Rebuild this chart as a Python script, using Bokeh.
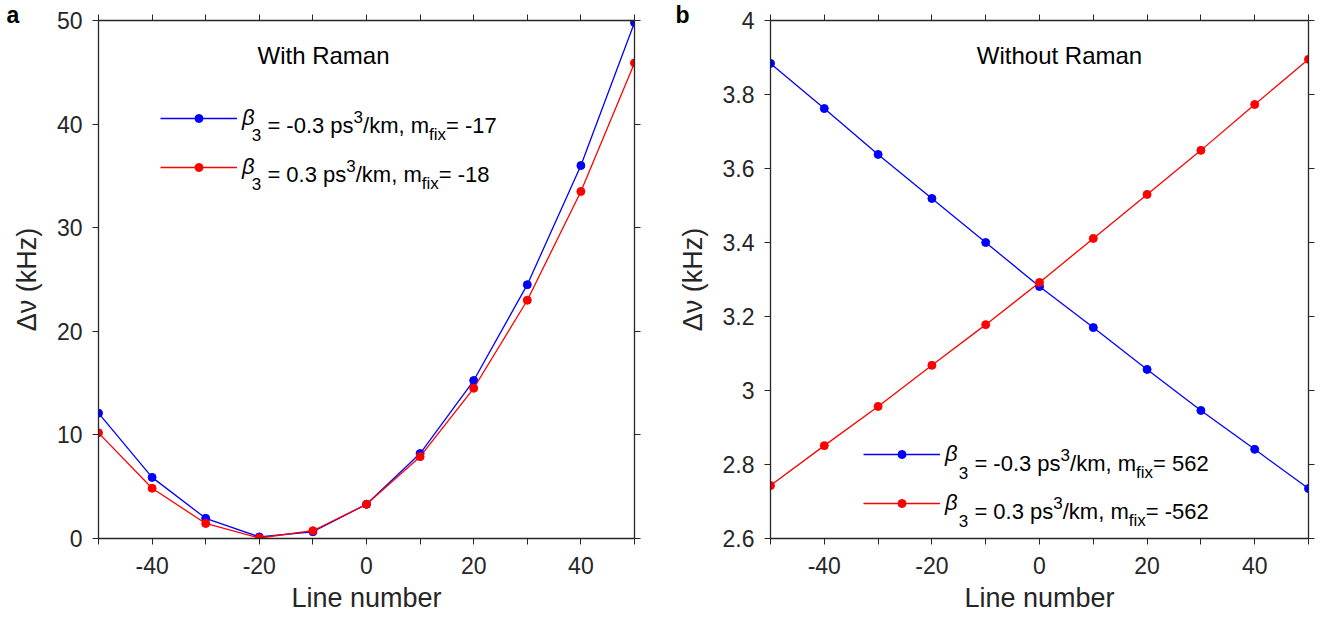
from bokeh.plotting import figure
from bokeh.layouts import row
from bokeh.models import (LinearAxis, FixedTicker, Label, Legend, LegendItem,
                          NumeralTickFormatter, Range1d, CustomJSTickFormatter)
from bokeh.embed import file_html
from bokeh.resources import INLINE

# ---------------- data ----------------
line_number = [-50, -40, -30, -20, -10, 0, 10, 20, 30, 40, 50]
raman_neg = [12.1, 5.9, 1.95, 0.15, 0.65, 3.3, 8.2, 15.25, 24.5, 36.0, 49.8]
raman_pos = [10.2, 4.85, 1.45, 0.05, 0.75, 3.3, 7.9, 14.5, 23.0, 33.5, 45.9]
noraman_neg = [3.884, 3.762, 3.638, 3.519, 3.400, 3.281, 3.170, 3.057, 2.946, 2.841, 2.735]
noraman_pos = [2.743, 2.851, 2.957, 3.068, 3.178, 3.292, 3.411, 3.530, 3.649, 3.773, 3.895]

x_major = [-40, -20, 0, 20, 40]
x_minor = [-50, -30, -10, 10, 30, 50]
ya_ticks = [0, 10, 20, 30, 40, 50]
yb_ticks = [2.6, 2.8, 3.0, 3.2, 3.4, 3.6, 3.8, 4.0]

leg_a = [("-0.3", "-17"), ("0.3", "-18")]
leg_b = [("-0.3", "562"), ("0.3", "-562")]

BLUE = "#0000FF"
RED = "#FF0000"
FONT = "Liberation Sans"
AXC = "#262626"

# Arial / Liberation Sans advance widths (per 1000 em)
W = {' ': 278, '-': 333, '.': 278, ',': 278, '/': 278, '=': 584, 'f': 278, 'i': 222,
     'x': 500, 'k': 500, 'm': 833, 'p': 556, 's': 500, 'β': 560}
for d in "0123456789":
    W[d] = 556


def tw(s, size):
    return sum(W.get(c, 556) for c in s) * size / 1000.0


def make_fig(ymin, ymax, yticks, fw, border_left, border_right, yfmt, panel, poff):
    p = figure(frame_width=fw, frame_height=518, output_backend="svg", toolbar_location=None,
               x_range=Range1d(-50, 50), y_range=Range1d(ymin, ymax),
               min_border_left=border_left, min_border_right=border_right,
               min_border_top=20, min_border_bottom=80, title=panel)
    p.title.align = "left"
    p.title.offset = poff
    p.title.standoff = -27
    p.title.text_font = FONT
    p.title.text_font_size = "23px"
    p.title.text_font_style = "bold"
    p.title.text_color = "black"
    p.xgrid.visible = False
    p.ygrid.visible = False
    p.outline_line_color = None
    p.background_fill_color = "white"
    bottom = p.below[0]
    left = p.left[0]
    xt = FixedTicker(ticks=x_major, minor_ticks=x_minor)
    yt = FixedTicker(ticks=yticks)
    bottom.ticker = xt
    left.ticker = yt
    bottom.formatter = CustomJSTickFormatter(code="return tick.toString()")
    left.formatter = yfmt
    blank = CustomJSTickFormatter(code="return ''")
    right = LinearAxis(ticker=yt, formatter=blank)
    above = LinearAxis(ticker=xt, formatter=blank)
    p.add_layout(right, "right")
    p.add_layout(above, "above")
    for ax in [bottom, left, right, above]:
        ax.axis_line_color = AXC
        ax.axis_line_width = 1.3
        ax.major_tick_line_color = AXC
        ax.minor_tick_line_color = AXC
        ax.major_tick_in = 0
        ax.major_tick_out = 6
        ax.minor_tick_in = 0
        ax.minor_tick_out = 6
        ax.major_label_text_font = FONT
        ax.major_label_text_font_size = "23px"
        ax.major_label_text_color = AXC
        ax.axis_label_text_font = FONT
        ax.axis_label_text_font_size = "27px"
        ax.axis_label_text_font_style = "normal"
        ax.axis_label_text_color = AXC
    for ax in [right, above]:
        ax.major_label_standoff = 0
    bottom.major_label_standoff = 12
    left.major_label_standoff = 10
    bottom.axis_label = "Line number"
    left.axis_label = "Δν (kHz)"
    bottom.axis_label_standoff = 6
    left.axis_label_standoff = 12
    return p


def add_series(p, xs, ys, color):
    r1 = p.line(xs, ys, line_color=color, line_width=1.3)
    r2 = p.scatter(xs, ys, marker="circle", size=8, fill_color=color, line_color=color)
    return [r1, r2]


def add_legend(p, series, loc):
    items = [LegendItem(label="β", renderers=r) for r in series]
    leg = Legend(items=items, location=loc, glyph_width=77, glyph_height=20,
                 label_standoff=5, label_width=0, label_height=26, spacing=23,
                 padding=0, margin=0, border_line_color=None,
                 background_fill_alpha=0, label_text_font=FONT,
                 label_text_font_size="22px", label_text_font_style="italic",
                 label_text_color="black", label_text_baseline="middle")
    p.add_layout(leg, "center")


def add_entry(p, x0, base, val, mfix):
    big, small, dy = 22, 17, 9
    pieces = [("3", small, -dy), (" = " + val + " ps", big, 0), ("3", small, dy),
              ("/km, m", big, 0), ("fix", small, -dy), ("= " + mfix, big, 0)]
    x = x0 + tw("β", big) - 1
    for txt, size, off in pieces:
        stripped = txt.lstrip(" ")
        x += tw(txt[:len(txt) - len(stripped)], size)
        p.add_layout(Label(x=x, y=base + off, x_units="screen", y_units="screen",
                           text=stripped, text_font=FONT, text_font_size=f"{size}px",
                           text_color="black", text_baseline="alphabetic", text_align="left"))
        x += tw(stripped, size)


def add_text(p, x, y, txt, size):
    p.add_layout(Label(x=x, y=y, x_units="screen", y_units="screen", text=txt,
                       text_font=FONT, text_font_size=f"{size}px",
                       text_color="black", text_baseline="middle", text_align="center"))


# ---------------- panel a ----------------
pa = make_fig(0, 50, ya_ticks, 536, 98, 40,
              CustomJSTickFormatter(code="return tick.toString()"), "a", -92)
sa1 = add_series(pa, line_number, raman_neg, BLUE)
sa2 = add_series(pa, line_number, raman_pos, RED)
add_legend(pa, [sa1, sa2], (62, 358))
add_entry(pa, 142, 413, leg_a[0][0], leg_a[0][1])
add_entry(pa, 142, 364, leg_a[1][0], leg_a[1][1])
add_text(pa, 225, 483, "With Raman", 24)

# ---------------- panel b ----------------
pb = make_fig(2.6, 4.0, yb_ticks, 538, 96, 10, NumeralTickFormatter(format="0.[0]"), "b", -95)
sb1 = add_series(pb, line_number, noraman_neg, BLUE)
sb2 = add_series(pb, line_number, noraman_pos, RED)
add_legend(pb, [sb1, sb2], (93, 22))
add_entry(pb, 177, 75, leg_b[0][0], leg_b[0][1])
add_entry(pb, 177, 27, leg_b[1][0], leg_b[1][1])
add_text(pb, 289, 483, "Without Raman", 24)

layout = row(pa, pb)
open("out.html", "w").write(file_html(layout, INLINE))
